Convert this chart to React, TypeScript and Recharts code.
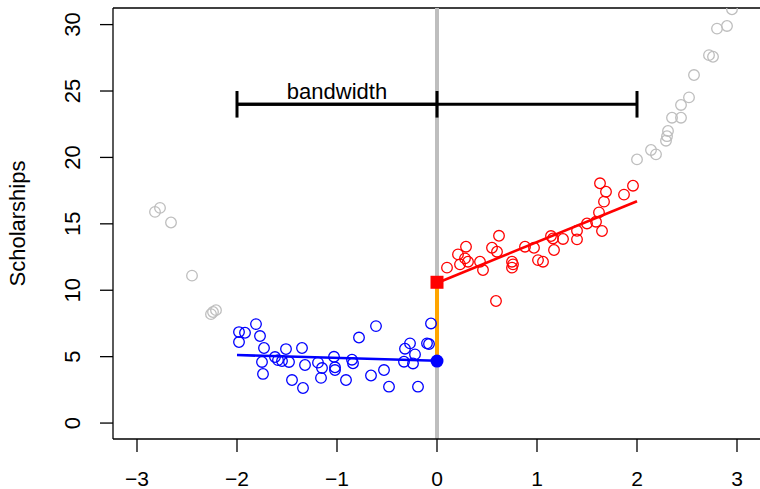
import React from "react"
import {
  ComposedChart,
  Scatter,
  Line,
  XAxis,
  YAxis,
  ReferenceLine,
} from "recharts"

// observations outside the bandwidth (grey)
const outLeftX = [-2.82, -2.77, -2.66, -2.45, -2.26, -2.24, -2.21]
const outLeftY = [15.9, 16.2, 15.1, 11.1, 8.2, 8.36, 8.5]
const outRightX = [2.0, 2.14, 2.19, 2.29, 2.3, 2.31, 2.35, 2.44, 2.44, 2.52, 2.57, 2.72, 2.76, 2.8, 2.9, 2.95]
const outRightY = [19.85, 20.56, 20.23, 21.26, 21.6, 21.99, 22.99, 22.99, 23.95, 24.52, 26.2, 27.7, 27.58, 29.7, 29.9, 31.15]

// below cutoff (blue)
const belowX = [
  -1.98, -1.92, -1.81, -1.98, -1.77, -1.73, -1.75, -1.74, -1.62, -1.59, -1.55, -1.51, -1.48, -1.35,
  -1.32, -1.45, -1.34, -1.19, -1.15, -1.16, -1.03, -1.02, -1.02, -0.91, -0.85, -0.84, -0.78, -0.66,
  -0.61, -0.53, -0.48, -0.33, -0.32, -0.27, -0.22, -0.24, -0.19, -0.1, -0.08, -0.06,
]
const belowY = [
  6.85, 6.8, 7.45, 6.1, 6.55, 5.65, 4.6, 3.7, 4.97, 4.74, 4.67, 5.57, 4.6, 5.65,
  4.37, 3.24, 2.64, 4.55, 4.14, 3.4, 4.99, 4.2, 3.99, 3.24, 4.77, 4.5, 6.44, 3.58,
  7.3, 3.99, 2.74, 4.62, 5.6, 6.0, 5.17, 4.49, 2.74, 6.0, 5.95, 7.5,
]

// above cutoff (red)
const aboveX = [
  0.1, 0.21, 0.23, 0.28, 0.29, 0.31, 0.43, 0.46, 0.55, 0.59, 0.6, 0.62, 0.75, 0.76, 0.75, 0.88, 0.97,
  1.01, 1.06, 1.14, 1.16, 1.17, 1.26, 1.4, 1.4, 1.5, 1.59, 1.62, 1.65, 1.63, 1.69, 1.67, 1.87, 1.96,
]
const aboveY = [
  11.7, 12.7, 11.95, 12.4, 13.28, 12.15, 12.15, 11.52, 13.2, 9.19, 12.9, 14.1, 12.15, 11.95, 11.7, 13.28, 13.2,
  12.27, 12.15, 14.08, 13.9, 13.03, 13.86, 14.48, 13.83, 15.03, 15.16, 15.86, 14.46, 18.05, 17.42, 16.67, 17.2, 17.87,
]

// local linear fits
const fitBelowX = [-2, 0]
const fitBelowY = [5.12, 4.69]
const fitAboveX = [0, 2]
const fitAboveY = [10.55, 16.7]
const cutoff = 0
const limBelow = 4.67
const limAbove = 10.6

const bandwidth = 2
const bandY = 24
const capHalf = 1

const xTicks = [-3, -2, -1, 0, 1, 2, 3]
const yTicks = [0, 5, 10, 15, 20, 25, 30]
const xDomain = [-3.24, 3.4]
const yDomain = [-1.2, 31.25]

const toPts = (xs: number[], ys: number[]) => xs.map((x, i) => ({ x, y: ys[i] }))

const FONT = "'Liberation Sans', Arial, sans-serif"

const ring = (color: string) => (p: any) => (
  <circle cx={p.cx} cy={p.cy} r={5.3} fill="none" stroke={color} strokeWidth={1.3} />
)

const XTick = ({ x, y, payload }: any) => (
  <text x={x} y={y} dy={32} textAnchor="middle" fontSize={21} fontFamily={FONT} fill="#000">
    {String(payload.value).replace("-", "\u2212")}
  </text>
)

const YTick = ({ x, y, payload }: any) => {
  const bx = x - 18
  return (
    <text
      x={bx}
      y={y}
      transform={`rotate(-90 ${bx} ${y})`}
      textAnchor="middle"
      fontSize={22}
      fontFamily={FONT}
      fill="#000"
    >
      {payload.value}
    </text>
  )
}

export default function App() {
  return (
    <div style={{ position: "absolute", left: 0, top: 0, width: 760, height: 489, overflow: "hidden", background: "#fff" }}>
      <ComposedChart width={787} height={489} margin={{ top: 8, right: 10, bottom: 0, left: 0 }}>
        <XAxis
          dataKey="x"
          type="number"
          domain={xDomain}
          ticks={xTicks}
          allowDataOverflow
          height={50}
          tickSize={13}
          stroke="#000"
          strokeWidth={1.3}
          tick={<XTick />}
        />
        <YAxis
          dataKey="y"
          type="number"
          domain={yDomain}
          ticks={yTicks}
          allowDataOverflow
          width={113}
          tickSize={13}
          stroke="#000"
          strokeWidth={1.3}
          tick={<YTick />}
          label={{
            content: (props: any) => {
              const vb = props.viewBox || { y: 8, height: 431 }
              const cy = vb.y + vb.height / 2
              return (
                <text x={25} y={cy} transform={`rotate(-90 25 ${cy})`} textAnchor="middle" fontSize={22} fontFamily={FONT} fill="#000">
                  Scholarships
                </text>
              )
            },
          }}
        />
        <ReferenceLine y={yDomain[1]} stroke="#000" strokeWidth={1.3} />
        <ReferenceLine x={cutoff} stroke="#BEBEBE" strokeWidth={4} />

        <ReferenceLine segment={[{ x: -bandwidth, y: bandY }, { x: bandwidth, y: bandY }]} stroke="#000" strokeWidth={3} />
        <ReferenceLine
          segment={[{ x: -bandwidth, y: bandY }, { x: cutoff, y: bandY }]}
          stroke="#000"
          strokeWidth={3}
          label={{ value: "bandwidth", position: "top", offset: 5, fontSize: 22, fontFamily: FONT, fill: "#000" }}
        />
        {[-bandwidth, cutoff, bandwidth].map((bx) => (
          <ReferenceLine
            key={bx}
            segment={[{ x: bx, y: bandY - capHalf }, { x: bx, y: bandY + capHalf }]}
            stroke="#000"
            strokeWidth={3}
          />
        ))}

        <Scatter data={toPts(outLeftX, outLeftY)} dataKey="y" shape={ring("#BEBEBE")} isAnimationActive={false} />
        <Scatter data={toPts(outRightX, outRightY)} dataKey="y" shape={ring("#BEBEBE")} isAnimationActive={false} />
        <Scatter data={toPts(belowX, belowY)} dataKey="y" shape={ring("#0000FF")} isAnimationActive={false} />
        <Scatter data={toPts(aboveX, aboveY)} dataKey="y" shape={ring("#FF0000")} isAnimationActive={false} />

        <Line data={toPts(fitBelowX, fitBelowY)} dataKey="y" stroke="#0000FF" strokeWidth={2.6} dot={false} isAnimationActive={false} />
        <Line data={toPts(fitAboveX, fitAboveY)} dataKey="y" stroke="#FF0000" strokeWidth={2.6} dot={false} isAnimationActive={false} />

        <Scatter
          data={[{ x: cutoff, y: limAbove }]}
          dataKey="y"
          shape={(p: any) => <rect x={p.cx - 6.5} y={p.cy - 6.5} width={13} height={13} fill="#FF0000" />}
          isAnimationActive={false}
        />
        <Scatter
          data={[{ x: cutoff, y: limBelow }]}
          dataKey="y"
          shape={(p: any) => <circle cx={p.cx} cy={p.cy} r={6.5} fill="#0000FF" />}
          isAnimationActive={false}
        />
        <Line
          data={[{ x: cutoff, y: limBelow }, { x: cutoff, y: limAbove }]}
          dataKey="y"
          stroke="#FFA500"
          strokeWidth={4}
          dot={false}
          isAnimationActive={false}
        />
      </ComposedChart>
    </div>
  )
}
